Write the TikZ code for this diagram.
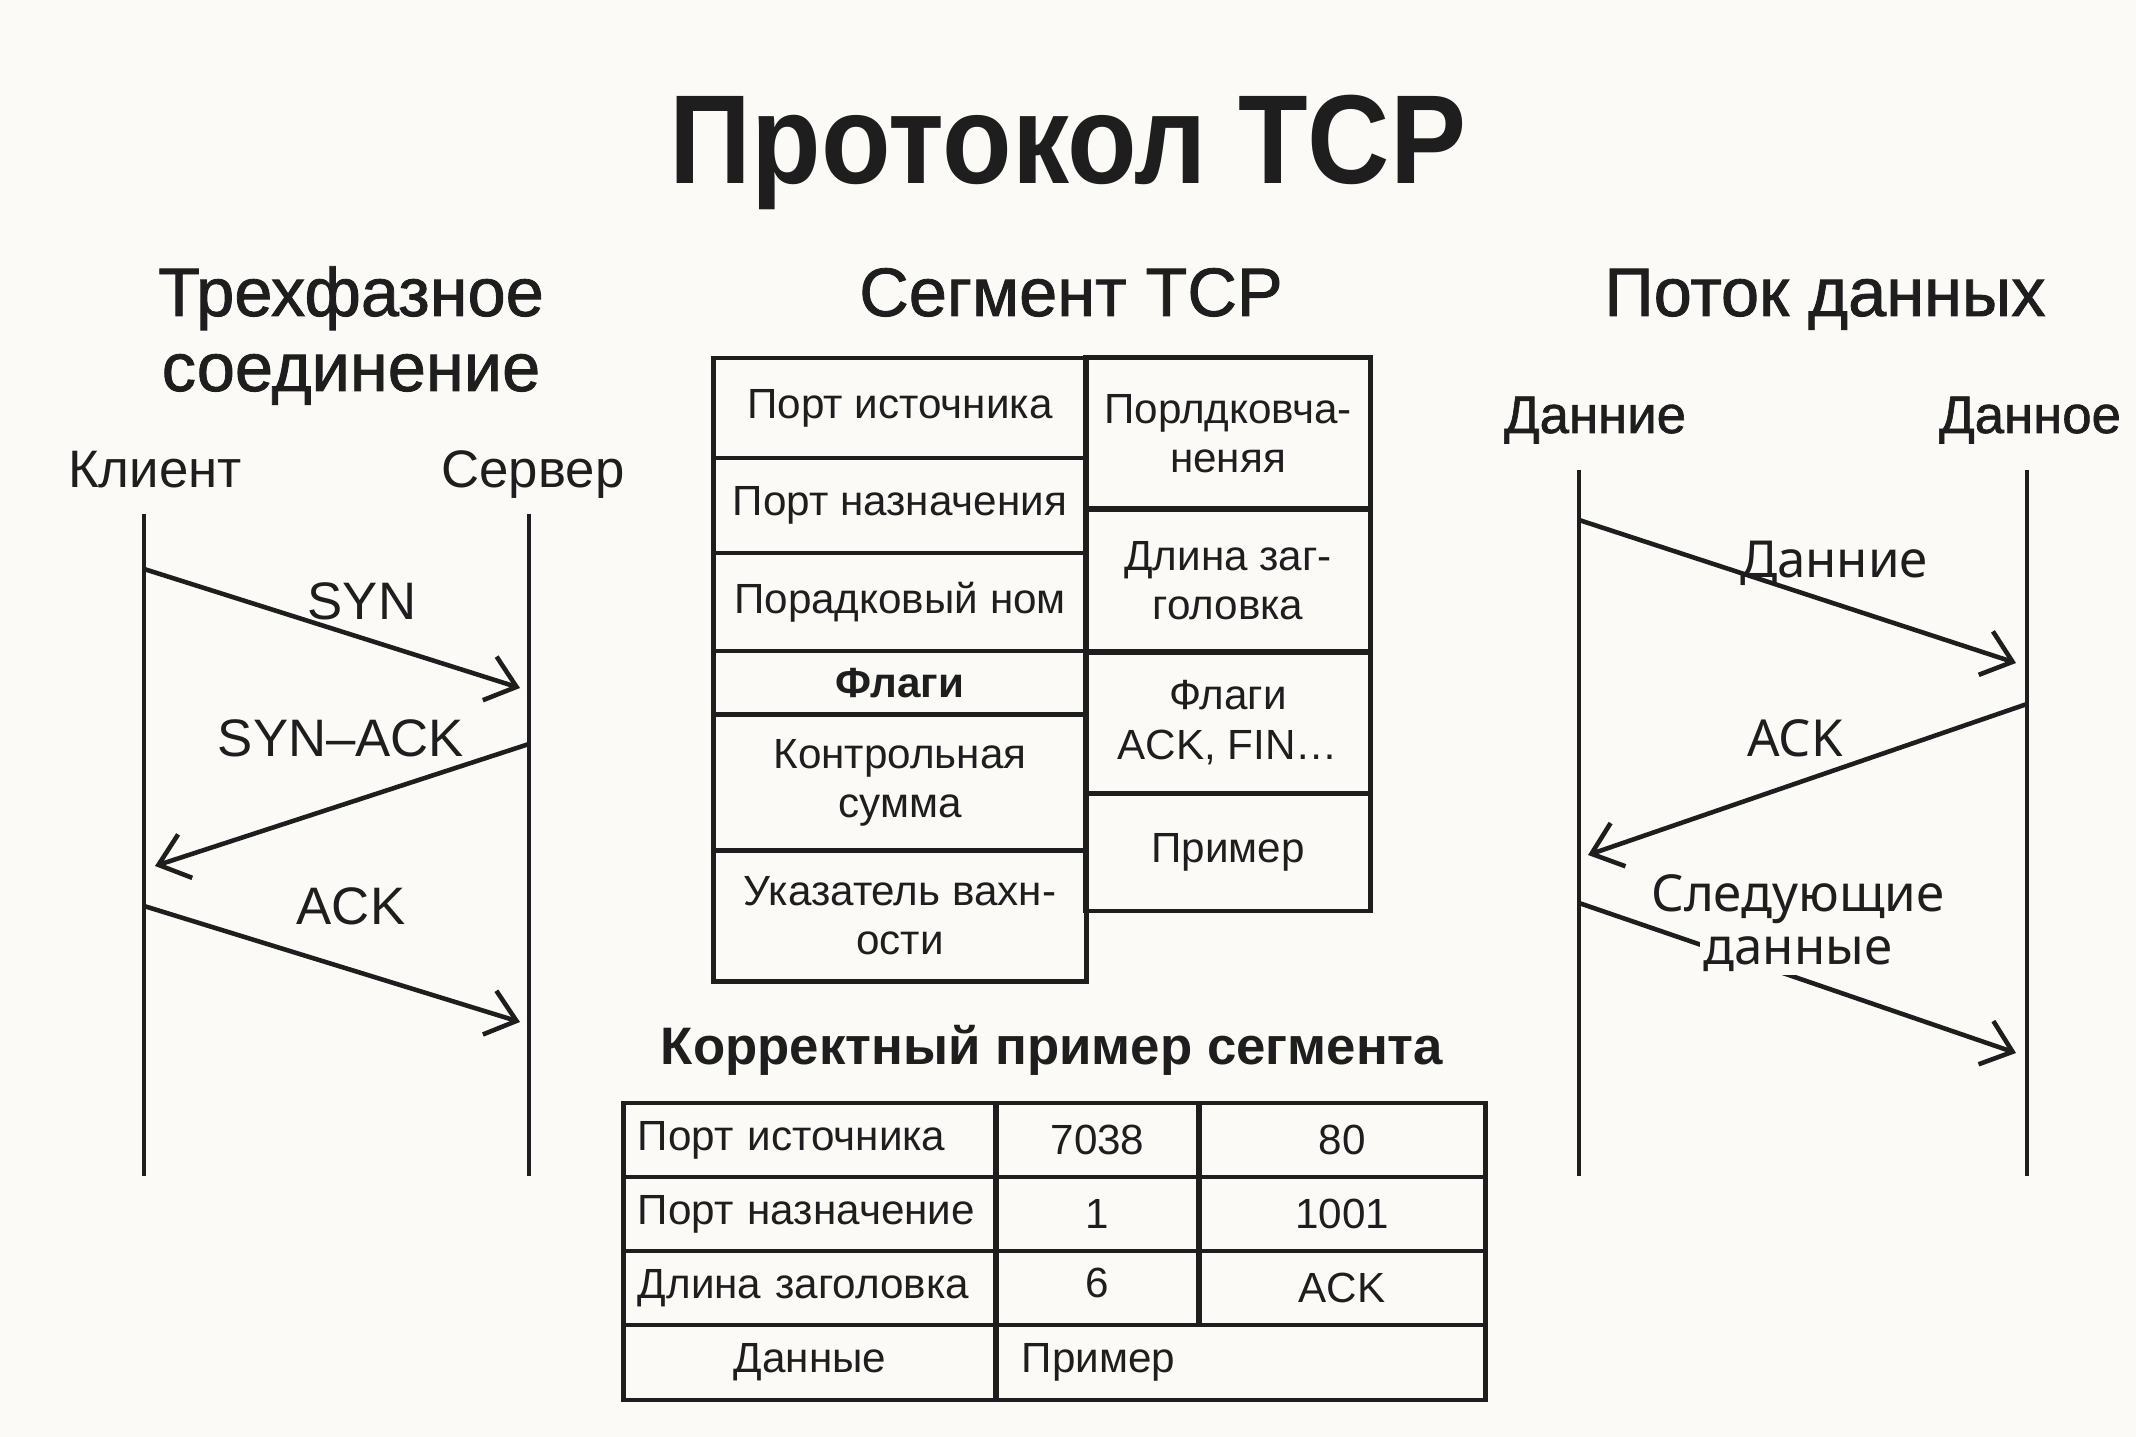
\documentclass[tikz,border=0pt]{standalone}
\usepackage{fontspec}
\setmainfont{Liberation Sans}
\newfontfamily\titlefont[FakeStretch=0.9]{Liberation Sans}
\newfontfamily\headfont[FakeBold=1.2]{Liberation Sans}
\newfontfamily\flowfont{Noto Sans}
\usetikzlibrary{arrows.meta}
\definecolor{paper}{RGB}{252,250,246}
\definecolor{ink}{RGB}{30,30,30}
\tikzset{
  lifeline/.style={draw=ink, line width=1.3pt},
  msg/.style={draw=ink, line width=1.3pt, -{Straight Barb[length=8pt,width=13pt]}},
  cell/.style={draw=ink, line width=1.4pt, inner sep=0pt, align=center, text=ink,
    font=\fontsize{12}{14}\selectfont},
  lcell/.style={cell, align=left, inner xsep=0.14cm, text width=3.44cm,
    text height=8.6pt, text depth=2.5pt},
  heading/.style={anchor=base, text=ink, font=\headfont\fontsize{19.5}{22}\selectfont},
  party/.style={anchor=base, text=ink, font=\fontsize{15}{18}\selectfont},
  flowlbl/.style={anchor=base, text=ink, font=\flowfont\fontsize{14.5}{17}\selectfont},
}
\begin{document}
\begin{tikzpicture}[x=0.01cm, y=-0.01cm]
  \fill[paper] (0,0) rectangle (2136,1437);

  % title and headings
  \node[anchor=base, text=ink, font=\titlefont\bfseries\fontsize{36}{40}\selectfont] (title) at (1068,184) {Протокол TCP};
  \node[heading] (hs1) at (351,316) {Трехфазное};
  \node[heading] (hs2) at (351,391) {соединение};
  \node[heading] (hseg) at (1071,316) {Сегмент TCP};
  \node[heading] (hflow) at (1825,316) {Поток данных};

  % three-way handshake
  \node[party] (client) at (155,488) {Клиент};
  \node[party] (server) at (533,488) {Сервер};
  \coordinate (cl0) at (144,514);
  \coordinate (cl1) at (144,1176);
  \coordinate (sv0) at (529,514);
  \coordinate (sv1) at (529,1176);
  \draw[lifeline] (cl0) -- (cl1);
  \draw[lifeline] (sv0) -- (sv1);
  \coordinate (syn0) at (144,569);
  \coordinate (syn1) at (520,688);
  \coordinate (sa0) at (529,744);
  \coordinate (sa1) at (155,866);
  \coordinate (ack0) at (144,906);
  \coordinate (ack1) at (520,1022);
  \draw[msg] (syn0) -- (syn1);
  \draw[msg] (sa0) -- (sa1);
  \draw[msg] (ack0) -- (ack1);
  \node[party] (lsyn) at (362,620) {SYN};
  \node[party] (lsa) at (341,757) {SYN–ACK};
  \node[party] (lack) at (351,924) {ACK};

  % segment fields
  \node[cell, minimum width=3.72cm, minimum height=1.00cm] (src) at (900,408) {Порт источника};
  \node[cell, minimum width=3.72cm, minimum height=0.95cm] (dst) at (900,505.5) {Порт назначения};
  \node[cell, minimum width=3.72cm, minimum height=0.98cm] (seq) at (900,602) {Порадковый ном};
  \node[cell, minimum width=3.72cm, minimum height=0.64cm, font=\fontsize{12}{14}\selectfont\bfseries] (flg) at (900,683) {Флаги};
  \node[cell, minimum width=3.72cm, minimum height=1.35cm] (chk) at (900,782.5) {Контрольная\\сумма};
  \node[cell, minimum width=3.72cm, minimum height=1.31cm] (urg) at (900,915.5) {Указатель вахн-\\ости};
  \node[cell, minimum width=2.84cm, minimum height=1.51cm] (ackn) at (1228,433.5) {Порлдковча-\\неняя};
  \node[cell, minimum width=2.84cm, minimum height=1.43cm] (hlen) at (1228,580.5) {Длина заг-\\головка};
  \node[cell, minimum width=2.84cm, minimum height=1.41cm] (flags) at (1228,722.5) {Флаги\\ACK, FIN…};
  \node[cell, minimum width=2.84cm, minimum height=1.18cm] (expl) at (1228,852) {Пример};

  % example segment
  \node[anchor=base, text=ink, font=\bfseries\fontsize{15}{18}\selectfont] (hex) at (1052,1064) {Корректный пример сегмента};
  \node[lcell, minimum width=3.72cm, minimum height=0.74cm] (e11) at (810,1140) {Порт источника};
  \node[cell, minimum width=2.03cm, minimum height=0.74cm] (e12) at (1097.5,1140) {7038};
  \node[cell, minimum width=2.86cm, minimum height=0.74cm] (e13) at (1342,1140) {80};
  \node[lcell, minimum width=3.72cm, minimum height=0.74cm] (e21) at (810,1214) {Порт назначение};
  \node[cell, minimum width=2.03cm, minimum height=0.74cm] (e22) at (1097.5,1214) {1};
  \node[cell, minimum width=2.86cm, minimum height=0.74cm] (e23) at (1342,1214) {1001};
  \node[lcell, minimum width=3.72cm, minimum height=0.74cm] (e31) at (810,1288) {Длина заголовка};
  \node[cell, minimum width=2.03cm, minimum height=0.74cm] (e32) at (1097.5,1288) {\raisebox{3pt}{6}};
  \node[cell, minimum width=2.86cm, minimum height=0.74cm] (e33) at (1342,1288) {ACK};
  \node[cell, minimum width=3.72cm, minimum height=0.75cm] (e41) at (810,1362.5) {Данные};
  \node[cell, align=left, inner xsep=0.26cm, text width=4.37cm, minimum width=4.89cm, minimum height=0.75cm] (e42) at (1240.5,1362.5) {Пример};

  % data flow
  \node[anchor=base, text=ink, font=\headfont\fontsize{15}{18}\selectfont] (snd) at (1595,433) {Данние};
  \node[anchor=base, text=ink, font=\headfont\fontsize{15}{18}\selectfont] (rcv) at (2030,433) {Данное};
  \coordinate (fl0) at (1579,470);
  \coordinate (fl1) at (1579,1176);
  \coordinate (fr0) at (2027,470);
  \coordinate (fr1) at (2027,1176);
  \draw[lifeline] (fl0) -- (fl1);
  \draw[lifeline] (fr0) -- (fr1);
  \coordinate (d0) at (1579,520);
  \coordinate (d1) at (2016,663);
  \coordinate (a0) at (2027,704);
  \coordinate (a1) at (1588,855);
  \coordinate (n0) at (1579,903);
  \coordinate (n1) at (2016,1053);
  \draw[msg] (d0) -- (d1);
  \draw[msg] (a0) -- (a1);
  \draw[msg] (n0) -- (n1);
  \node[flowlbl] (ld) at (1834,578) {Данние};
  \node[flowlbl] (la) at (1795,757) {ACK};
  \node[flowlbl] (ln1) at (1798,911) {Следующие};
  \node[flowlbl, fill=paper, inner sep=1pt] (ln2) at (1798,964) {данные};
\end{tikzpicture}
\end{document}
